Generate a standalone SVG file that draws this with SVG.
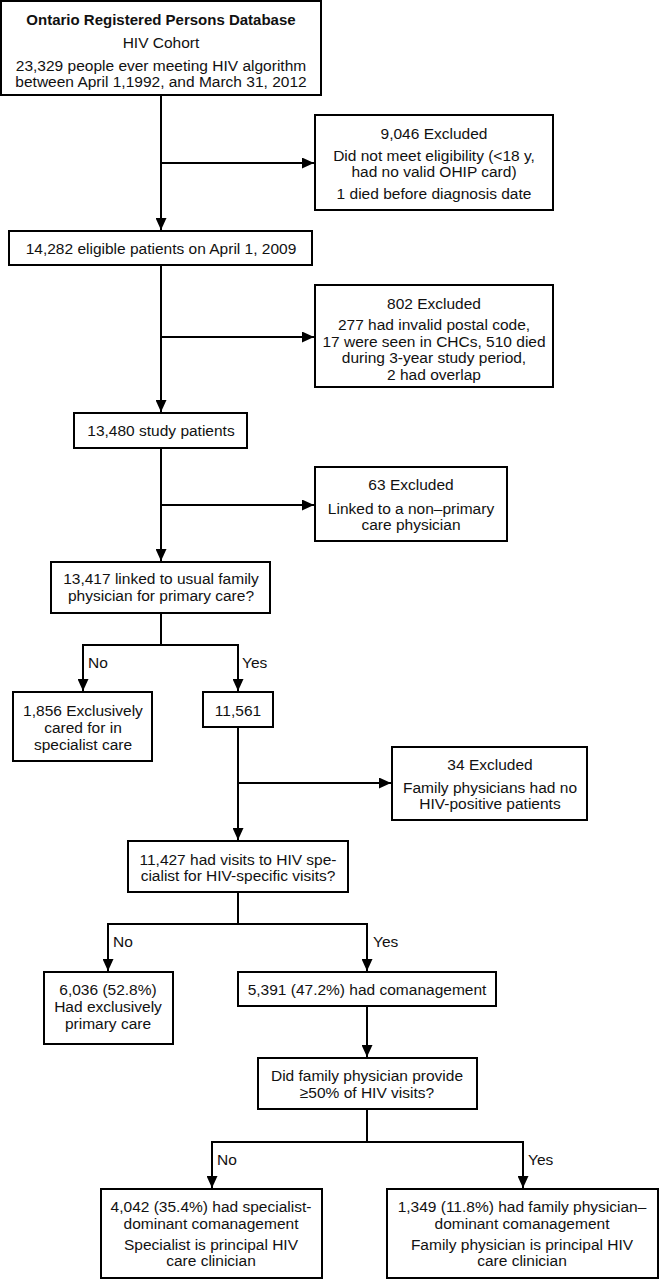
<svg xmlns="http://www.w3.org/2000/svg" width="659" height="1280" viewBox="0 0 659 1280">
<defs>
<style>
.box{fill:#fff;stroke:#000;stroke-width:2}
.t{font-family:"Liberation Sans",Arial,sans-serif;font-size:15.5px;fill:#111;text-anchor:middle}
.b{font-weight:bold;font-size:15px}
.l{font-family:"Liberation Sans",Arial,sans-serif;font-size:15.5px;fill:#111}
.c{fill:none;stroke:#000;stroke-width:2}
</style>
<marker id="ah" markerUnits="userSpaceOnUse" markerWidth="13" markerHeight="11" refX="12" refY="5.5" orient="auto">
<path d="M0,0 L12,5.5 L0,11 z" fill="#000"/>
</marker>
</defs>
<rect width="659" height="1280" fill="#fff"/>
<g id="connectors">
<path class="c" d="M161,95 V230" marker-end="url(#ah)"/>
<path class="c" d="M161,163 H314" marker-end="url(#ah)"/>
<path class="c" d="M161,265 V412" marker-end="url(#ah)"/>
<path class="c" d="M161,337 H314" marker-end="url(#ah)"/>
<path class="c" d="M161,448 V561" marker-end="url(#ah)"/>
<path class="c" d="M161,505 H314" marker-end="url(#ah)"/>
<path class="c" d="M161,613 V645 M83,645 H238"/>
<path class="c" d="M83,644 V691" marker-end="url(#ah)"/>
<path class="c" d="M238,644 V691" marker-end="url(#ah)"/>
<path class="c" d="M238,727 V840" marker-end="url(#ah)"/>
<path class="c" d="M238,783 H391" marker-end="url(#ah)"/>
<path class="c" d="M238,892 V924 M108,924 H367"/>
<path class="c" d="M108,923 V971" marker-end="url(#ah)"/>
<path class="c" d="M367,923 V971" marker-end="url(#ah)"/>
<path class="c" d="M367,1006 V1057" marker-end="url(#ah)"/>
<path class="c" d="M367,1109 V1142 M212,1142 H523"/>
<path class="c" d="M212,1141 V1188" marker-end="url(#ah)"/>
<path class="c" d="M523,1141 V1188" marker-end="url(#ah)"/>
<text class="l" x="88" y="668">No</text>
<text class="l" x="242" y="668">Yes</text>
<text class="l" x="113" y="947">No</text>
<text class="l" x="373" y="947">Yes</text>
<text class="l" x="217" y="1165">No</text>
<text class="l" x="528" y="1165">Yes</text>
</g>
<g id="n1">
<rect class="box" x="1" y="1" width="320" height="94"/>
<text class="t b" x="161" y="25">Ontario Registered Persons Database</text>
<text class="t" x="161" y="48">HIV Cohort</text>
<text class="t" x="161" y="71">23,329 people ever meeting HIV algorithm</text>
<text class="t" x="161" y="87">between April 1,1992, and March 31, 2012</text>
</g>
<g id="n2">
<rect class="box" x="315" y="115" width="238" height="95"/>
<text class="t" x="434" y="139">9,046 Excluded</text>
<text class="t" x="434" y="161">Did not meet eligibility (&lt;18 y,</text>
<text class="t" x="434" y="177">had no valid OHIP card)</text>
<text class="t" x="434" y="199">1 died before diagnosis date</text>
</g>
<g id="n3">
<rect class="box" x="9" y="231" width="303" height="34"/>
<text class="t" x="161" y="254">14,282 eligible patients on April 1, 2009</text>
</g>
<g id="n4">
<rect class="box" x="315" y="285" width="238" height="102"/>
<text class="t" x="434" y="309">802 Excluded</text>
<text class="t" x="434" y="330">277 had invalid postal code,</text>
<text class="t" x="434" y="347">17 were seen in CHCs, 510 died</text>
<text class="t" x="434" y="363">during 3-year study period,</text>
<text class="t" x="434" y="380">2 had overlap</text>
</g>
<g id="n5">
<rect class="box" x="74" y="413" width="173" height="35"/>
<text class="t" x="161" y="436">13,480 study patients</text>
</g>
<g id="n6">
<rect class="box" x="315" y="467" width="192" height="74"/>
<text class="t" x="411" y="490">63 Excluded</text>
<text class="t" x="411" y="514">Linked to a non–primary</text>
<text class="t" x="411" y="530">care physician</text>
</g>
<g id="n7">
<rect class="box" x="51" y="562" width="219" height="51"/>
<text class="t" x="161" y="584">13,417 linked to usual family</text>
<text class="t" x="161" y="601">physician for primary care?</text>
</g>
<g id="n8">
<rect class="box" x="13" y="692" width="139" height="69"/>
<text class="t" x="83" y="716">1,856 Exclusively</text>
<text class="t" x="83" y="733">cared for in</text>
<text class="t" x="83" y="750">specialist care</text>
</g>
<g id="n9">
<rect class="box" x="203" y="692" width="70" height="35"/>
<text class="t" x="238" y="716">11,561</text>
</g>
<g id="n10">
<rect class="box" x="392" y="747" width="195" height="73"/>
<text class="t" x="490" y="770">34 Excluded</text>
<text class="t" x="490" y="793">Family physicians had no</text>
<text class="t" x="490" y="809">HIV-positive patients</text>
</g>
<g id="n11">
<rect class="box" x="128" y="841" width="220" height="51"/>
<text class="t" x="238" y="865">11,427 had visits to HIV spe-</text>
<text class="t" x="238" y="881">cialist for HIV-specific visits?</text>
</g>
<g id="n12">
<rect class="box" x="44" y="972" width="129" height="72"/>
<text class="t" x="108" y="995">6,036 (52.8%)</text>
<text class="t" x="108" y="1012">Had exclusively</text>
<text class="t" x="108" y="1029">primary care</text>
</g>
<g id="n13">
<rect class="box" x="238" y="972" width="258" height="34"/>
<text class="t" x="367" y="995">5,391 (47.2%) had comanagement</text>
</g>
<g id="n14">
<rect class="box" x="258" y="1058" width="219" height="51"/>
<text class="t" x="367" y="1081">Did family physician provide</text>
<text class="t" x="367" y="1098">≥50% of HIV visits?</text>
</g>
<g id="n15">
<rect class="box" x="101" y="1189" width="221" height="89"/>
<text class="t" x="211" y="1212">4,042 (35.4%) had specialist-</text>
<text class="t" x="211" y="1229">dominant comanagement</text>
<text class="t" x="211" y="1250">Specialist is principal HIV</text>
<text class="t" x="211" y="1266">care clinician</text>
</g>
<g id="n16">
<rect class="box" x="387" y="1189" width="271" height="89"/>
<text class="t" x="522" y="1212">1,349 (11.8%) had family physician–</text>
<text class="t" x="522" y="1229">dominant comanagement</text>
<text class="t" x="522" y="1250">Family physician is principal HIV</text>
<text class="t" x="522" y="1266">care clinician</text>
</g>
</svg>
